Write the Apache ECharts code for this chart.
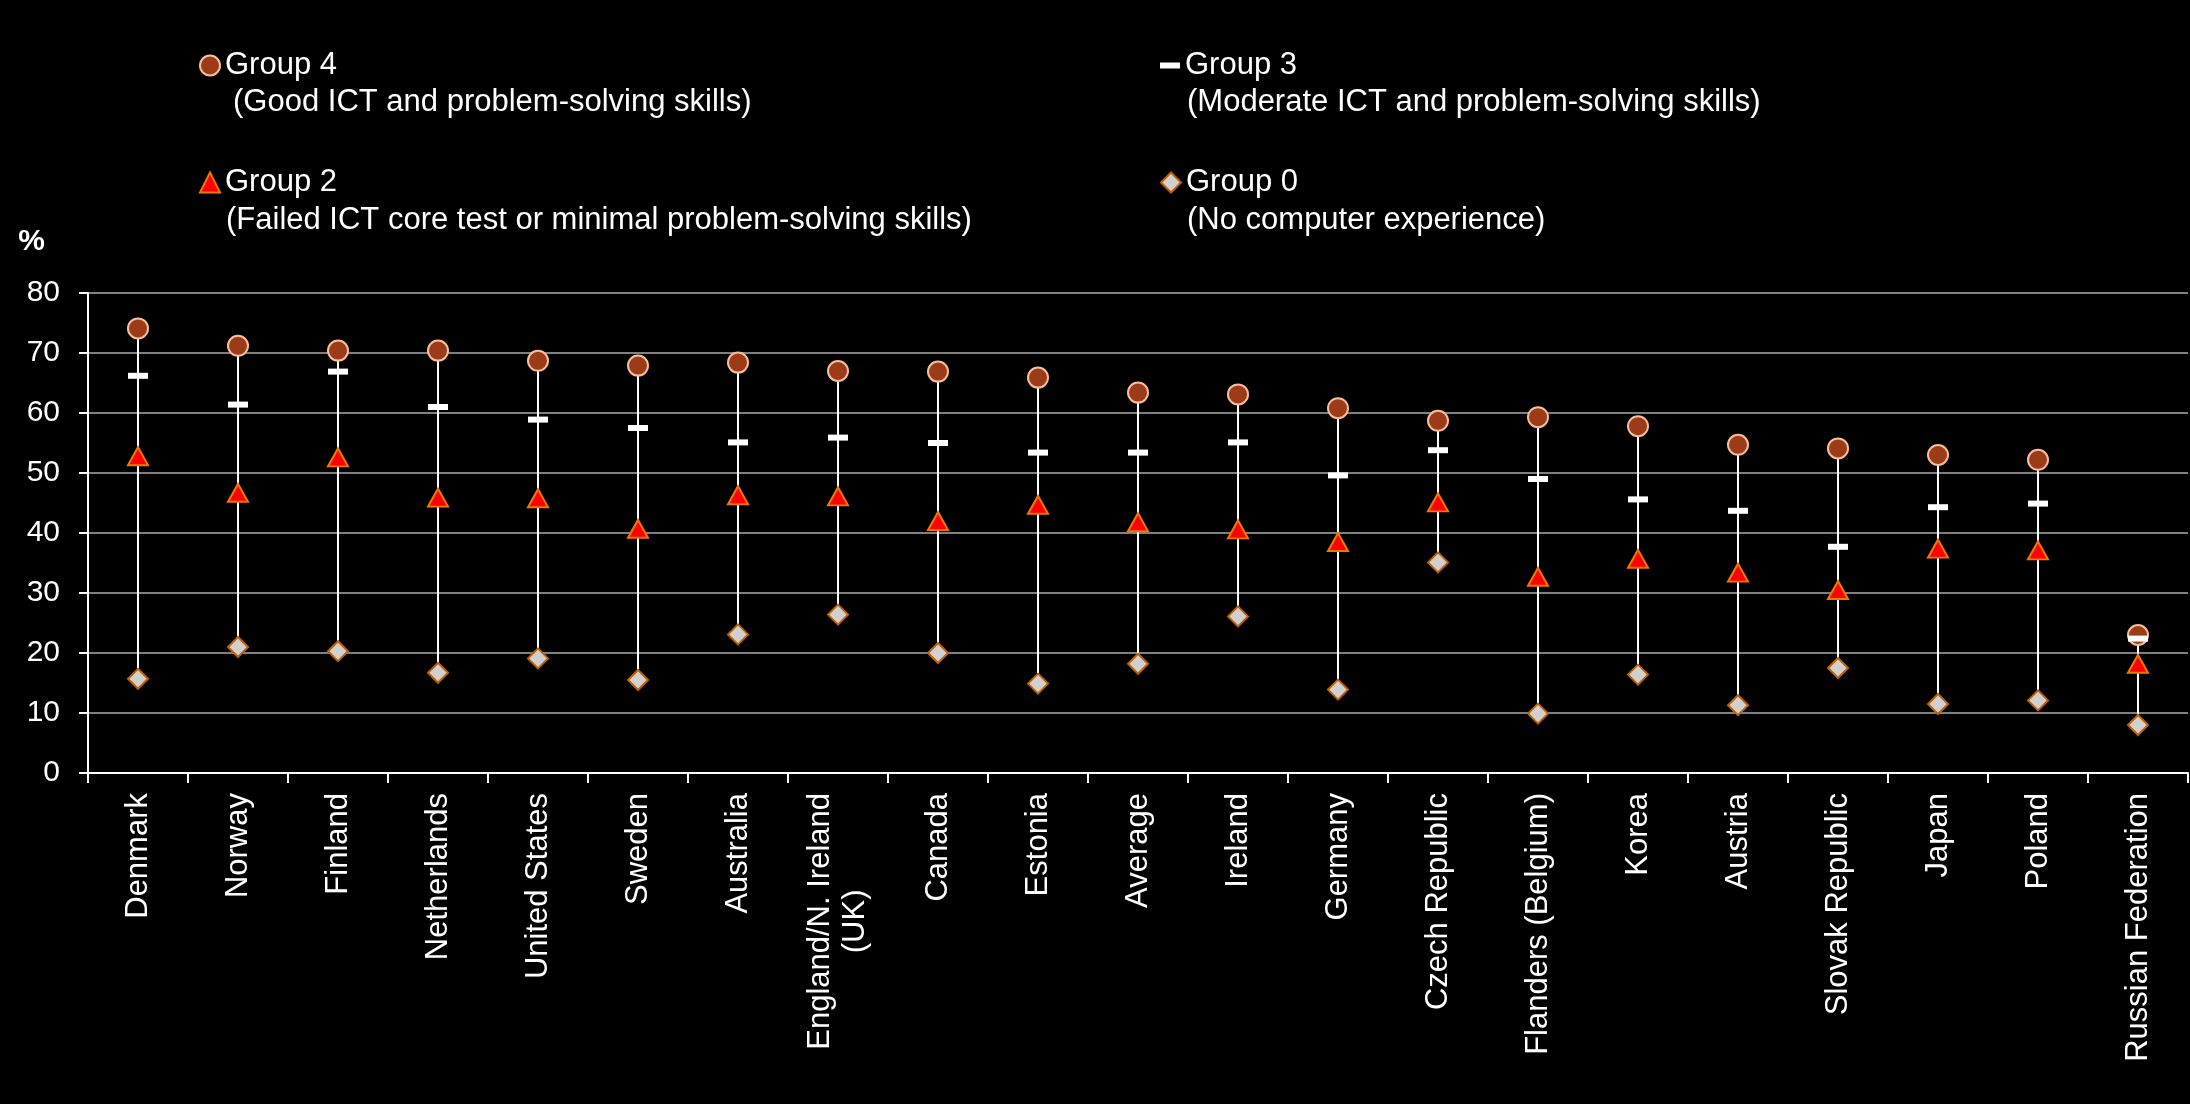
<!DOCTYPE html>
<html><head><meta charset="utf-8">
<script src="https://cdn.jsdelivr.net/npm/echarts@6/dist/echarts.min.js"></script>
<style>html,body{margin:0;padding:0;background:#000}#c{width:2190px;height:1104px}</style>
</head><body><div id="c"></div>
<script>
const categories = ['Denmark','Norway','Finland','Netherlands','United States','Sweden','Australia','England/N. Ireland\n(UK)','Canada','Estonia','Average','Ireland','Germany','Czech Republic','Flanders (Belgium)','Korea','Austria','Slovak Republic','Japan','Poland','Russian Federation'];
const group4 = [74.1,71.2,70.4,70.4,68.7,67.9,68.4,67.0,66.9,65.9,63.4,63.1,60.8,58.7,59.3,57.8,54.7,54.1,53.0,52.2,23.0];
const group3 = [66.2,61.4,66.9,61.0,58.9,57.5,55.1,55.9,55.0,53.4,53.4,55.1,49.6,53.8,49.0,45.6,43.7,37.7,44.3,44.9,22.4];
const group2 = [52.8,46.7,52.6,45.9,45.8,40.7,46.3,46.1,42.0,44.7,41.8,40.6,38.5,45.1,32.7,35.7,33.4,30.5,37.4,37.1,18.2];
const group0 = [15.7,21.0,20.3,16.7,19.1,15.5,23.1,26.4,20.0,14.9,18.2,26.1,13.9,35.1,9.9,16.4,11.3,17.5,11.5,12.1,8.0];
const legendNames = ['Group 4','Group 3','Group 2','Group 0'];
const legendNotes = ['(Good ICT and problem-solving skills)','(Moderate ICT and problem-solving skills)','(Failed ICT core test or minimal problem-solving skills)','(No computer experience)'];

const FONT = 'Liberation Sans, Arial, sans-serif';
const rangeData = categories.map((c, i) => {
  const vals = [group4[i], group3[i], group2[i], group0[i]];
  return [i, Math.max(...vals), Math.min(...vals)];
});

function legendAt(name, left, top, w, h) {
  return {
    data: [name], left: left, top: top, itemWidth: w, itemHeight: h, itemGap: 0,
    selectedMode: false, padding: 0,
    textStyle: { color: '#fff', fontSize: 31, fontFamily: FONT, lineHeight: 30 }
  };
}
function note(text, x, y) {
  return { type: 'text', x: x, y: y, silent: true,
    style: { text: text, fill: '#fff', fontSize: 31, fontFamily: FONT, verticalAlign: 'middle' } };
}

const chart = echarts.init(document.getElementById('c'));
chart.setOption({
  backgroundColor: '#000',
  animation: false,
  legend: [
    legendAt(legendNames[0], 199, 50, 20, 20),
    legendAt(legendNames[1], 1160, 50, 20, 6),
    legendAt(legendNames[2], 199, 167, 20, 20),
    legendAt(legendNames[3], 1160, 167, 20, 20)
  ],
  graphic: [
    note(legendNotes[0], 233, 102),
    note(legendNotes[1], 1187, 102),
    note(legendNotes[2], 226, 220),
    note(legendNotes[3], 1187, 220)
  ],
  grid: { left: 88, right: 2, top: 293, bottom: 331, containLabel: false },
  xAxis: {
    type: 'category', data: categories, boundaryGap: true,
    axisLine: { lineStyle: { color: '#fff', width: 2 } },
    axisTick: { show: true, length: 10, alignWithLabel: false, lineStyle: { color: '#fff', width: 2 } },
    splitLine: { show: false },
    axisLabel: {
      rotate: 90, interval: 0, margin: 20, color: '#fff', fontSize: 31, fontFamily: FONT,
      formatter: v => v.indexOf('\n') >= 0 ? v.split('\n').map(s => '{c|' + s + '}').join('\n') : v,
      rich: { c: { align: 'center', color: '#fff', fontSize: 31, fontFamily: FONT, lineHeight: 35 } }
    }
  },
  yAxis: {
    type: 'value', min: 0, max: 80, interval: 10,
    name: '%', nameLocation: 'end', nameGap: 51,
    nameTextStyle: { color: '#fff', fontSize: 30, fontWeight: 'bold', fontFamily: FONT, align: 'right', verticalAlign: 'middle', padding: [0, 43, 0, 0] },
    axisLine: { show: true, lineStyle: { color: '#fff', width: 2 } },
    axisTick: { show: true, length: 9, lineStyle: { color: '#fff', width: 2 } },
    axisLabel: { color: '#fff', fontSize: 30, fontFamily: FONT, margin: 28 },
    splitLine: { show: true, lineStyle: { color: '#808080', width: 2 } }
  },
  series: [
    {
      type: 'custom', silent: true, z: 1, data: rangeData,
      encode: { x: 0, y: [1, 2] },
      renderItem: (params, api) => {
        const p1 = api.coord([api.value(0), api.value(1)]);
        const p2 = api.coord([api.value(0), api.value(2)]);
        return { type: 'line', shape: { x1: p1[0], y1: p1[1], x2: p2[0], y2: p2[1] }, style: { stroke: '#fff', lineWidth: 2 } };
      }
    },
    { name: 'Group 4', type: 'scatter', z: 2, data: group4, symbol: 'circle', symbolSize: 20,
      itemStyle: { color: '#9C3B17', borderColor: '#F7BE9C', borderWidth: 2, opacity: 1 } },
    { name: 'Group 3', type: 'scatter', z: 3, data: group3, symbol: 'rect', symbolSize: [20, 6],
      itemStyle: { color: '#ffffff', opacity: 1 } },
    { name: 'Group 2', type: 'scatter', z: 4, data: group2, symbol: 'triangle', symbolSize: [20, 18],
      itemStyle: { color: '#FF0000', borderColor: '#F07800', borderWidth: 2, opacity: 1 } },
    { name: 'Group 0', type: 'scatter', z: 5, data: group0, symbol: 'diamond', symbolSize: [20, 20],
      itemStyle: { color: '#D0D0D0', borderColor: '#C06000', borderWidth: 2, opacity: 1 } }
  ]
});
</script></body></html>
